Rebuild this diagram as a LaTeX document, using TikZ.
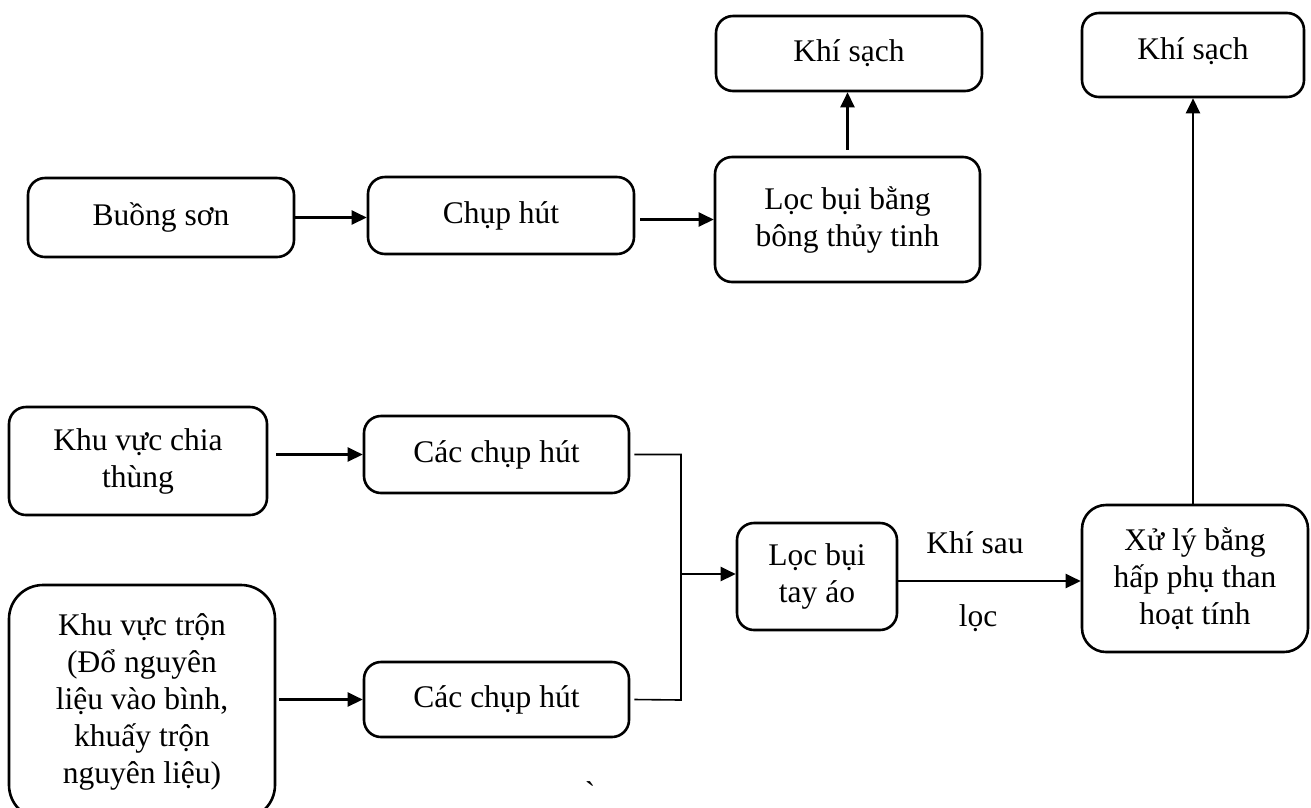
\documentclass[tikz,border=0pt]{standalone}
\usepackage{fontspec}
\setmainfont{Liberation Serif}
\newfontfamily\accentfont[Ligatures=TeXOff]{Liberation Serif}
\usetikzlibrary{arrows.meta}
\begin{document}
\begin{tikzpicture}[x=1pt,y=-1pt,
  box/.style={draw, line width=2.6pt, rounded corners=17pt, align=center,
    inner sep=0pt, font=\fontsize{31.5}{37}\selectfont},
  txt/.style={inner sep=0pt, font=\fontsize{31.5}{37}\selectfont},
  flow/.style={line width=2.4pt, -{Triangle[length=15pt,width=14pt]}},
  joint/.style={line width=1.6pt}]
\useasboundingbox (0,0) rectangle (1311,807);
\fill[white] (0,0) rectangle (1311,807);
\begin{scope}
\clip (0,0) rectangle (1311,807);
% upper line: paint booth
\node[box, minimum width=266pt, minimum height=79pt] (buong) at (161,217.5) {Buồng sơn};
\node[box, minimum width=266pt, minimum height=77pt] (chup) at (501,215.5) {Chụp hút};
\node[box, minimum width=265pt, minimum height=125pt] (locbb) at (847.5,219.5) {Lọc bụi bằng\\bông thủy tinh};
\node[box, minimum width=266pt, minimum height=75pt] (sach1) at (849,53.5) {Khí sạch};
% lower line: mixing and barrel areas
\node[box, minimum width=258pt, minimum height=108pt] (chia) at (138,461) {Khu vực chia\\thùng};
\node[box, minimum width=265pt, minimum height=77pt] (cch1) at (496.5,454.5) {Các chụp hút};
\node[box, rounded corners=34pt, minimum width=266pt, minimum height=234pt] (tron) at (142,702) {Khu vực trộn\\(Đổ nguyên\\liệu vào bình,\\khuấy trộn\\nguyên liệu)};
\node[box, minimum width=265pt, minimum height=75pt] (cch2) at (496.5,699.5) {Các chụp hút};
\node[box, minimum width=160pt, minimum height=107pt] (tayao) at (817,576.5) {Lọc bụi\\tay áo};
\node[box, rounded corners=24pt, minimum width=226pt, minimum height=147pt] (xuly) at (1195,578.5) {Xử lý bằng\\hấp phụ than\\hoạt tính};
\node[box, minimum width=222pt, minimum height=84pt, text depth=12pt] (sach2) at (1193,55) {Khí sạch};
% flow labels
\node[txt] (sau) at (975,543) {Khí sau};
\node[txt] (loc) at (978,618) {lọc};
\node[inner sep=0pt, anchor=north, font=\accentfont\fontsize{31.5}{37}\selectfont] (mark) at (590,781) {\char"0060};
% junction of the two hood lines
\coordinate (jtop) at (681,454.5);
\coordinate (jbot) at (681,700);
\coordinate (jmid) at (681,574);
\end{scope}
% connectors
\draw[flow] (buong.east) -- (buong.east -| chup.west);
\draw[flow, shorten <=5pt] ([yshift=-4pt]chup.east) -- ([yshift=-4pt]chup.east -| locbb.west);
\draw[flow, shorten <=6pt] (locbb.north) -- (locbb.north |- sach1.south);
\draw[flow, shorten <=8pt] (chia.east |- cch1.west) -- (cch1.west);
\draw[flow, shorten <=3pt] (tron.east |- cch2.west) -- (cch2.west);
\draw[joint] ([xshift=4pt]cch1.east) -- (jtop) -- (jbot) -- ([xshift=4pt]cch2.east);
\draw[flow] (jmid) -- (jmid -| tayao.west);
\draw[flow] ([yshift=-4.5pt]tayao.east) -- ([yshift=-4.5pt]tayao.east -| xuly.west);
\draw[flow] (sach2.south |- xuly.north) -- (sach2.south);
\end{tikzpicture}
\end{document}
